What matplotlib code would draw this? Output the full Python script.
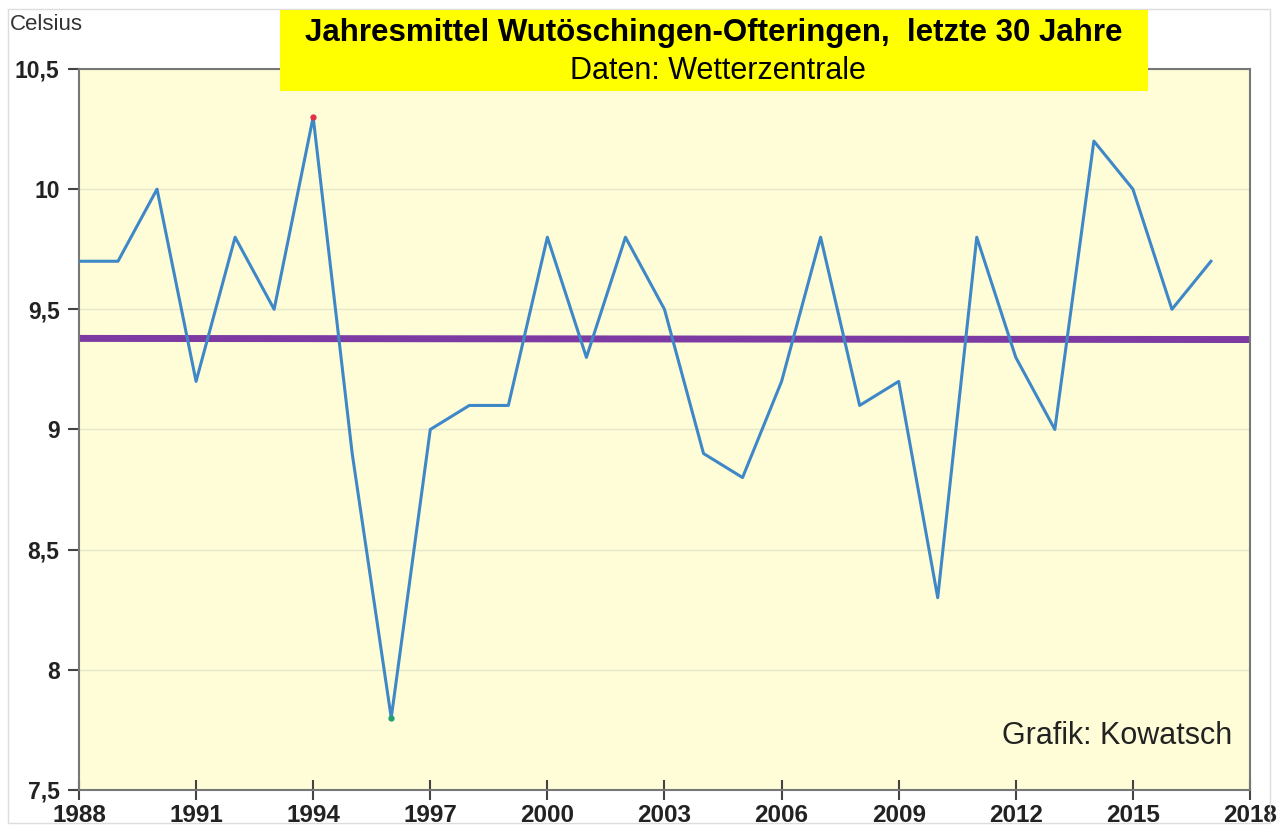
import matplotlib.pyplot as plt
import numpy as np
from matplotlib.patches import Rectangle

plt.rcParams['font.family'] = ['Liberation Sans', 'DejaVu Sans']

years = list(range(1988, 2018))
temps = [9.7, 9.7, 10.0, 9.2, 9.8, 9.5, 10.3, 8.9, 7.8, 9.0,
         9.1, 9.1, 9.8, 9.3, 9.8, 9.5, 8.9, 8.8, 9.2, 9.8,
         9.1, 9.2, 8.3, 9.8, 9.3, 9.0, 10.2, 10.0, 9.5, 9.7]
yticks = [7.5, 8, 8.5, 9, 9.5, 10, 10.5]
ylabels = ["7,5", "8", "8,5", "9", "9,5", "10", "10,5"]
xticks = list(range(1988, 2019, 3))

fig = plt.figure(figsize=(12.88, 8.35), dpi=100)
ax = fig.add_axes([0.0613, 0.0539, 0.9092, 0.8635])
ax.set_facecolor('#fefdd8')

# trend line
k, d = np.polyfit(years, temps, 1)
tx = np.array([1988, 2018])
ax.plot(tx, k * tx + d, color='#7d3aa3', lw=5, solid_capstyle='butt', zorder=2)

ax.plot(years, temps, color='#3f88c8', lw=2.2, zorder=3)
imax = int(np.argmax(temps))
imin = int(np.argmin(temps))
ax.plot(years[imax], temps[imax], 'o', ms=3.5, color='#e0304a', zorder=4)
ax.plot(years[imin], temps[imin], 'o', ms=3.5, color='#20a070', zorder=4)

ax.set_xlim(1988, 2018)
ax.set_ylim(7.5, 10.5)
ax.set_xticks(xticks)
ax.set_xticklabels([str(x) for x in xticks], fontsize=17.5, fontweight='bold', color='#222222')
ax.set_yticks(yticks)
ax.set_yticklabels(ylabels, fontsize=16.5, fontweight='bold', color='#222222')
ax.tick_params(axis='x', direction='inout', length=14, width=1.5, color='#444444', pad=3)
ax.tick_params(axis='y', direction='out', length=8, width=1.5, color='#444444', pad=6)
ax.grid(axis='y', color='#e6e6cc', lw=1)
ax.set_axisbelow(True)
for s in ax.spines.values():
    s.set_color('#777777')
    s.set_linewidth(1.5)

fig.text(10 / 1288, 1 - 25 / 835, "Celsius", fontsize=16, color='#333333', va='center', ha='left')
ax.text(0.985, 0.075, "Grafik: Kowatsch", transform=ax.transAxes, fontsize=22,
        color='#222222', ha='right', va='center')

# title box
fig.patches.append(Rectangle((280 / 1288, 1 - 91 / 835), 868 / 1288, 81 / 835,
                             transform=fig.transFigure, facecolor='#ffff00',
                             edgecolor='none', zorder=5))
fig.text(714 / 1288, 1 - 33 / 835, "Jahresmittel Wutöschingen-Ofteringen,  letzte 30 Jahre",
         fontsize=22.5, fontweight='bold', ha='center', va='center', zorder=6)
fig.text(718 / 1288, 1 - 71 / 835, "Daten: Wetterzentrale",
         fontsize=22, ha='center', va='center', zorder=6)

# outer frame
fig.patches.append(Rectangle((8 / 1288, 12 / 835), 1262 / 1288, 814 / 835,
                             transform=fig.transFigure, facecolor='none',
                             edgecolor='#dddddd', lw=1, zorder=0))

fig.savefig("out.png", dpi=100)
